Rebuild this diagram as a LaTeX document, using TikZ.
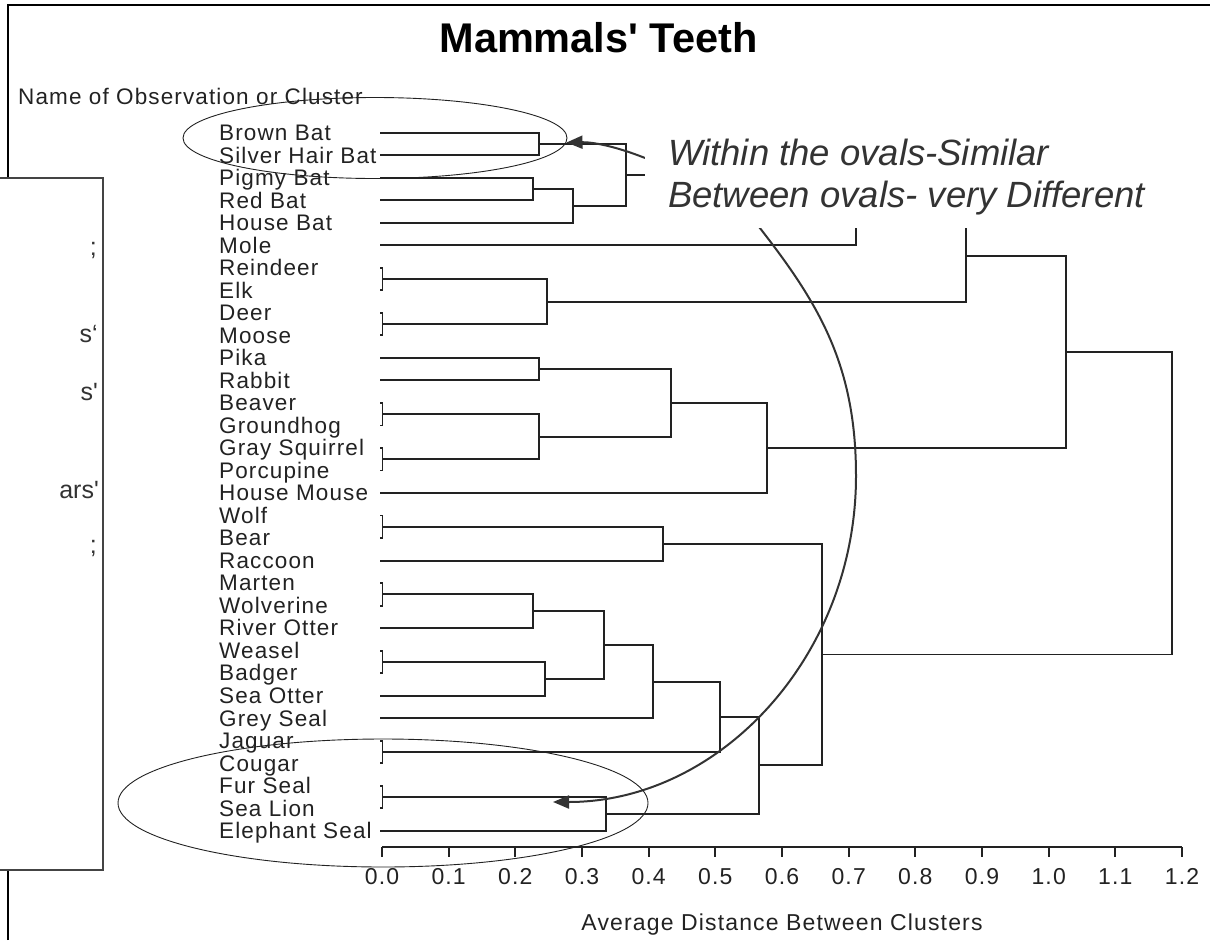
\documentclass[tikz,border=0pt]{standalone}
\usepackage{fontspec}
\usetikzlibrary{arrows.meta,calc}
\newfontfamily\labf[LetterSpace=5]{Liberation Sans}
\newfontfamily\plainf{Liberation Sans}
\newcommand\labfont{\labf\fontsize{22.5}{26}\selectfont}
\newcommand\axfont{\labf\fontsize{23}{27}\selectfont}
\newcommand\titlefont{\plainf\bfseries\fontsize{41.5}{48}\selectfont}
\newcommand\notefont{\plainf\itshape\fontsize{36.5}{42}\selectfont}
\newcommand\boxfont{\plainf\fontsize{25}{29}\selectfont}
\definecolor{ink}{HTML}{222222}
\definecolor{notec}{HTML}{333333}
\definecolor{boxc}{HTML}{444444}
\newcommand\mrg[4]{%
  \path let \p1=($(#2)!.5!(#3)$) in (#4pt,\y1) coordinate (#1);
  \draw[dline] (#2) -| (#1) |- (#3);}
\begin{document}
\begin{tikzpicture}[x=1pt,y=-1pt,
  dline/.style={draw=ink,line width=1.9pt},
  leaf/.style={anchor=base west,inner sep=0pt,font=\labfont,text=ink},
  ticklab/.style={anchor=base,inner sep=0pt,font=\axfont,text=ink},
  notetxt/.style={anchor=base west,inner sep=0pt,font=\notefont,text=notec},
  frag/.style={anchor=base east,inner sep=0pt,font=\boxfont,text=notec},
  oval/.style={draw=ink,line width=0.9pt},
  annarrow/.style={draw=notec,line width=2pt,-{Triangle[length=16pt,width=13pt]}}]
\useasboundingbox (0,0) rectangle (1210,940);
% outer frame
\draw[line width=2pt,black] (7.7,940) -- (7.7,5) -- (1210,5);
% leaves
\foreach \nm [count=\i from 0] in {Brown Bat,Silver Hair Bat,Pigmy Bat,Red Bat,House Bat,Mole,Reindeer,Elk,Deer,Moose,Pika,Rabbit,Beaver,Groundhog,Gray Squirrel,Porcupine,House Mouse,Wolf,Bear,Raccoon,Marten,Wolverine,River Otter,Weasel,Badger,Sea Otter,Grey Seal,Jaguar,Cougar,Fur Seal,Sea Lion,Elephant Seal}{
  \node[leaf] (t\i) at (219,{132.7+22.52*\i+7.8}) {\nm};
  \coordinate (p\i) at (380,{132.7+22.52*\i});
}
% dendrogram
\mrg{b1}{p0}{p1}{539}
\mrg{b2}{p2}{p3}{533}
\mrg{b3}{b2}{p4}{572.7}
\mrg{b4}{b1}{b3}{625.7}
\mrg{b5}{b4}{p5}{856}
\mrg{d1}{p6}{p7}{382.5}
\mrg{d2}{p8}{p9}{382.5}
\mrg{d3}{d1}{d2}{547}
\mrg{g1}{b5}{d3}{966}
\mrg{r1}{p10}{p11}{539.3}
\mrg{r2}{p12}{p13}{382.5}
\mrg{r3}{p14}{p15}{382.5}
\mrg{r4}{r2}{r3}{539.3}
\mrg{r5}{r1}{r4}{670.7}
\mrg{r6}{r5}{p16}{766.7}
\mrg{g2}{g1}{r6}{1066}
\mrg{c1}{p17}{p18}{382.5}
\mrg{c2}{c1}{p19}{662.7}
\mrg{c3}{p20}{p21}{382.5}
\mrg{c4}{c3}{p22}{533.3}
\mrg{c5}{p23}{p24}{382.5}
\mrg{c6}{c5}{p25}{545.3}
\mrg{c7}{c4}{c6}{604}
\mrg{c8}{c7}{p26}{652.7}
\mrg{c9}{p27}{p28}{382.5}
\mrg{c10}{c8}{c9}{720}
\mrg{s1}{p29}{p30}{382.5}
\mrg{s2}{s1}{p31}{605.7}
\mrg{c11}{c10}{s2}{759}
\mrg{c12}{c2}{c11}{821.7}
\mrg{root}{g2}{c12}{1172}
% axis
\coordinate (ax0) at (382,847);
\coordinate (ax1) at (1182,847);
\draw[dline] (ax0) -- (ax1);
\foreach \lbl [count=\k from 0] in {0.0,0.1,0.2,0.3,0.4,0.5,0.6,0.7,0.8,0.9,1.0,1.1,1.2}{
  \draw[dline] ({382+66.667*\k},847) -- ++(0,10);
  \node[ticklab] (tk\k) at ({382+66.667*\k},884) {\lbl};
}
\node[anchor=base,inner sep=0pt,font=\axfont,text=ink] (axt) at (782,930) {Average Distance Between Clusters};
% annotation arrows
\coordinate (a1s) at (645,158);
\coordinate (a1e) at (566.5,142.5);
\draw[annarrow] (a1s) .. controls (615,146) and (592,142) .. (a1e);
\coordinate (a2s) at (752,218);
\coordinate (a2m) at (856,476);
\coordinate (a2e) at (553,802);
\draw[annarrow] (a2s) .. controls (817,300) and (856,362) .. (a2m) .. controls (856,656) and (720,802) .. (a2e);
% note
\fill[white] (645,122) rectangle (1168,228);
\node[notetxt] (w1) at (668,165.5) {Within the ovals-Similar};
\node[notetxt] (w2) at (668,207.5) {Between ovals- very Different};
% headings
\node[anchor=base,inner sep=0pt,font=\titlefont] (title) at (598.5,52) {Mammals' Teeth};
\node[leaf] (hdr) at (18,104) {Name of Observation or Cluster};
% ovals
\draw[oval] (375,138) ellipse [x radius=192,y radius=40.5];
\draw[oval] (383,803) ellipse [x radius=265,y radius=64];
% left box
\filldraw[fill=white,draw=boxc,line width=1.5pt] (-2,178) rectangle (103,870);
\node[frag] (f1) at (97,255) {;};
\node[frag] (f2) at (98,342) {s‘};
\node[frag] (f3) at (98,400) {s'};
\node[frag] (f4) at (99,498) {ars'};
\node[frag] (f5) at (97,553) {;};
\end{tikzpicture}
\end{document}
